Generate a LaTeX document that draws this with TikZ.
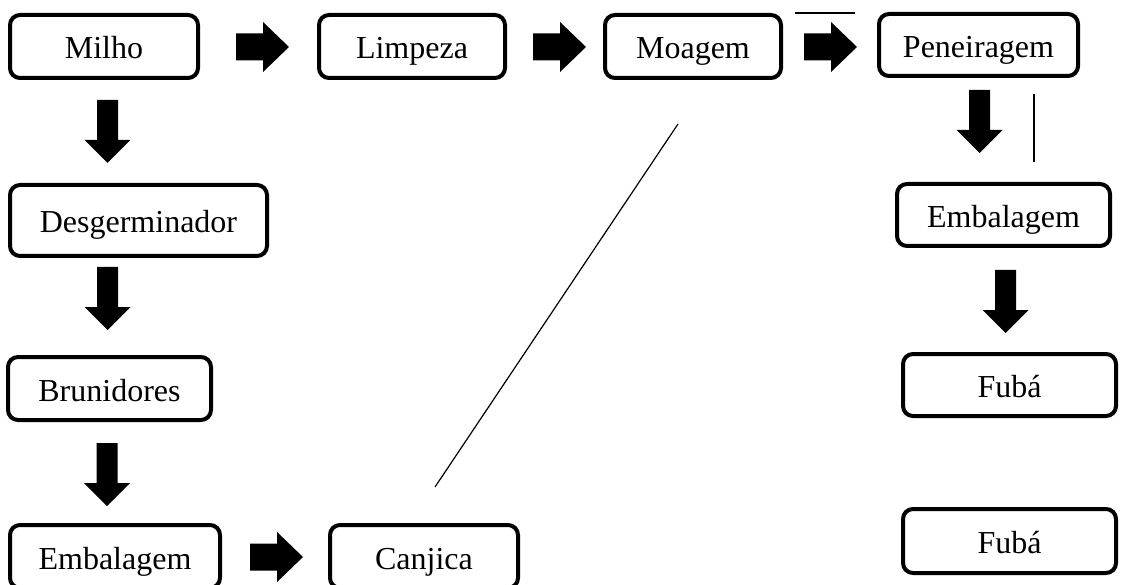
\documentclass[tikz,border=0pt]{standalone}
\usepackage{fontspec}
\setmainfont{Liberation Serif}
\begin{document}
\begin{tikzpicture}[x=1pt,y=-1pt,
  box/.style={draw,line width=4pt,rounded corners=10pt,inner sep=0pt,
    text height=30pt,text depth=5pt,
    font=\fontsize{32}{38}\selectfont},
  thin line/.style={line width=1.2pt},
  pics/harrow/.style={code={\fill (0,-13.5) -- (27,-13.5) -- (27,-25) -- (53,0) -- (27,25) -- (27,13.5) -- (0,13.5) -- cycle;}},
  pics/varrow/.style={code={\fill (-10.5,0) -- (10.5,0) -- (10.5,#1) -- (23,#1) -- (0,#1+23) -- (-23,#1) -- (-10.5,#1) -- cycle;}}
]
\useasboundingbox (0,0) rectangle (1137,585);
\clip (0,0) rectangle (1137,585);
% top row
\node[box,minimum width=188pt,minimum height=63pt] (milho) at (104,46.5) {Milho};
\node[box,minimum width=186pt,minimum height=63pt] (limpeza) at (412,46.5) {Limpeza};
\node[box,minimum width=176pt,minimum height=63pt] (moagem) at (693,46.5) {Moagem};
\node[box,minimum width=199pt,minimum height=62pt] (peneiragem) at (978.5,45) {Peneiragem};
% left column
\node[box,minimum width=257pt,minimum height=71pt] (desg) at (138.5,220.5) {Desgerminador};
\node[box,minimum width=203pt,minimum height=63pt] (brun) at (109.5,388.5) {Brunidores};
\node[box,minimum width=210pt,minimum height=63pt] (emb1) at (115,556.5) {Embalagem};
\node[box,minimum width=188pt,minimum height=63pt] (canjica) at (424,556.5) {Canjica};
% right column
\node[box,minimum width=213pt,minimum height=62pt] (emb2) at (1003.5,215) {Embalagem};
\node[box,minimum width=213pt,minimum height=62pt] (fuba1) at (1009.5,385) {Fubá};
\node[box,minimum width=213pt,minimum height=64pt] (fuba2) at (1009.5,541) {Fubá};
% block arrows
\pic at (236,47) {harrow};
\pic at (533,47) {harrow};
\pic at (804,47) {harrow};
\pic at (250,557) {harrow};
\pic at (107.5,100) {varrow=40};
\pic at (107.5,267) {varrow=40};
\pic at (107,443) {varrow=40};
\pic at (979.5,90) {varrow=40};
\pic at (1005.5,270) {varrow=40};
% thin lines
\coordinate (h1) at (795,13);
\coordinate (h2) at (855,13);
\coordinate (v1) at (1034,94);
\coordinate (v2) at (1034,162);
\coordinate (d1) at (678,124);
\coordinate (d2) at (435,487);
\draw[thin line] (h1) -- (h2);
\draw[thin line] (v1) -- (v2);
\draw[thin line] (d1) -- (d2);
\end{tikzpicture}
\end{document}
